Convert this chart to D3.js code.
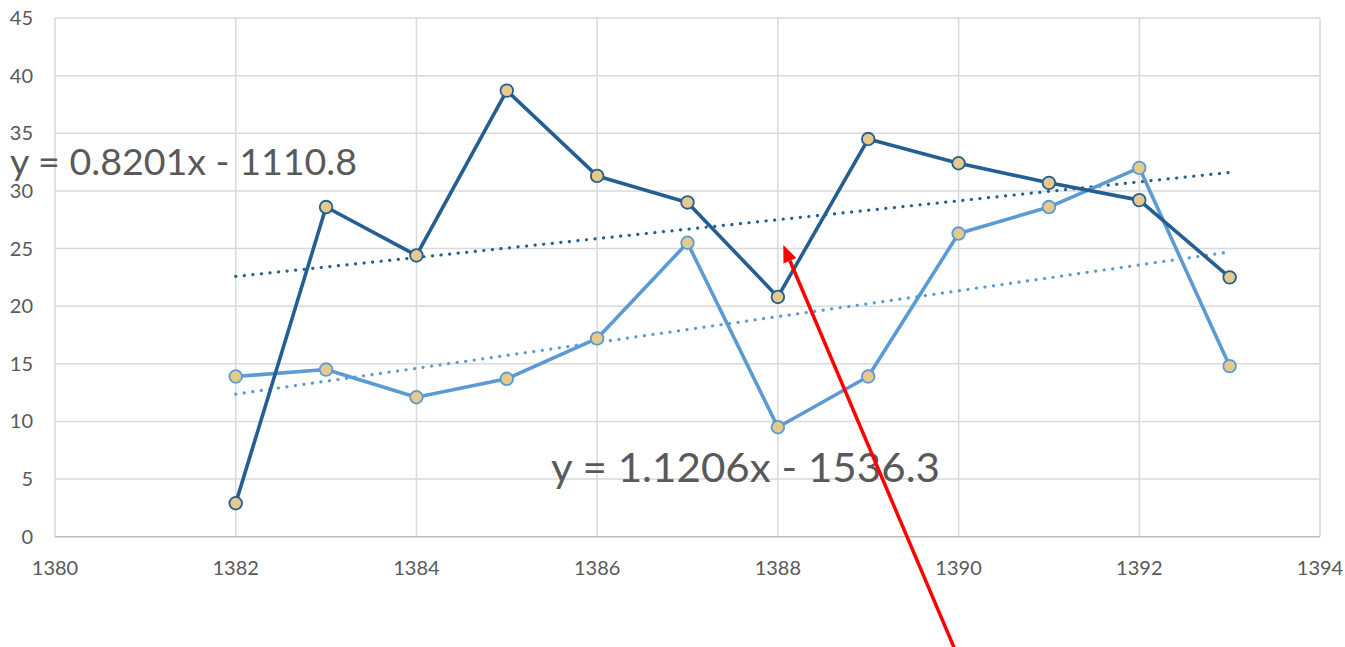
<!DOCTYPE html>
<html>
<head>
<meta charset="utf-8">
<script src="https://cdn.jsdelivr.net/npm/d3@7"></script>
<style>
  body { margin: 0; background: #fff; }
  svg text { font-family: Lato, "Open Sans", sans-serif; fill: #595959; }
</style>
</head>
<body>
<svg id="chart" width="1345" height="647"></svg>
<script>
// data
var years = [1382, 1383, 1384, 1385, 1386, 1387, 1388, 1389, 1390, 1391, 1392, 1393];
var seriesDark = [2.9, 28.6, 24.4, 38.7, 31.3, 29.0, 20.8, 34.5, 32.4, 30.7, 29.2, 22.5];
var seriesLight = [13.9, 14.5, 12.1, 13.7, 17.2, 25.5, 9.5, 13.9, 26.3, 28.6, 32.0, 14.8];
var trendDark = [0.8201, -1110.8];   // slope, intercept
var trendLight = [1.1206, -1536.3];
var xTicks = [1380, 1382, 1384, 1386, 1388, 1390, 1392, 1394];
var yTicks = [0, 5, 10, 15, 20, 25, 30, 35, 40, 45];
var arrowFrom = [1389.96, -9.8], arrowTo = [1388.06, 25.3];

(function() {
    var left = 55, right = 1320, top = 18, bottom = 536.7;

    var x = d3.scaleLinear().domain([1380, 1394]).range([left, right]);
    var y = d3.scaleLinear().domain([0, 45]).range([bottom, top]);

    var svg = d3.select("#chart");

    //gridlines
    svg.append("g").selectAll("line").data(yTicks.slice(1)).join("line")
        .attr("x1", left).attr("x2", right)
        .attr("y1", d => y(d)).attr("y2", d => y(d))
        .attr("stroke", "#d9d9d9").attr("stroke-width", 1.5);
    svg.append("g").selectAll("line").data(xTicks).join("line")
        .attr("x1", d => x(d)).attr("x2", d => x(d))
        .attr("y1", top).attr("y2", bottom)
        .attr("stroke", "#d9d9d9").attr("stroke-width", 1.5);
    //bottom axis line
    svg.append("line")
        .attr("x1", left).attr("x2", right).attr("y1", bottom).attr("y2", bottom)
        .attr("stroke", "#bfbfbf").attr("stroke-width", 1.5);

    //tick labels
    svg.append("g").selectAll("text").data(xTicks).join("text")
        .attr("x", d => x(d)).attr("y", 575)
        .attr("text-anchor", "middle").attr("font-size", 20)
        .text(d => d);
    svg.append("g").selectAll("text").data(yTicks).join("text")
        .attr("x", 33).attr("y", d => y(d) + 7)
        .attr("text-anchor", "end").attr("font-size", 20)
        .text(d => d);

    //trend lines
    function trend(c) { return years.map(v => [v, c[0] * v + c[1]]); }
    var line = d3.line().x(d => x(d[0])).y(d => y(d[1]));
    [[trendLight, "#5b9bd5"], [trendDark, "#255e91"]].forEach(function(t) {
        var pts = trend(t[0]);
        svg.append("path")
            .attr("d", line([pts[0], pts[pts.length - 1]]))
            .attr("fill", "none").attr("stroke", t[1])
            .attr("stroke-width", 3.2).attr("stroke-linecap", "round")
            .attr("stroke-dasharray", "0.1 8.5");
    });

    //series
    [[seriesLight, "#5b9bd5"], [seriesDark, "#255e91"]].forEach(function(s) {
        var pts = years.map((v, i) => [v, s[0][i]]);
        svg.append("path")
            .attr("d", line(pts))
            .attr("fill", "none").attr("stroke", s[1])
            .attr("stroke-width", 3.6).attr("stroke-linejoin", "round");
        svg.append("g").selectAll("circle").data(pts).join("circle")
            .attr("cx", d => x(d[0])).attr("cy", d => y(d[1]))
            .attr("r", 6.3)
            .attr("fill", "#e6c98c").attr("stroke", s[1]).attr("stroke-width", 1.8);
    });

    //equations
    svg.append("text")
        .attr("x", 10).attr("y", 175).attr("font-size", 36)
        .attr("textLength", 347).attr("lengthAdjust", "spacingAndGlyphs")
        .text("y = " + trendDark[0] + "x - " + Math.abs(trendDark[1]));
    svg.append("text")
        .attr("x", 551).attr("y", 482).attr("font-size", 40)
        .attr("textLength", 389).attr("lengthAdjust", "spacingAndGlyphs")
        .text("y = " + trendLight[0] + "x - " + Math.abs(trendLight[1]));

    //red arrow
    var x0 = x(arrowFrom[0]), y0 = y(arrowFrom[1]), x1 = x(arrowTo[0]), y1 = y(arrowTo[1]);
    var ang = Math.atan2(y1 - y0, x1 - x0);
    var headLen = 17, headW = 7;
    var bx = x1 - headLen * Math.cos(ang), by = y1 - headLen * Math.sin(ang);
    svg.append("line")
        .attr("x1", x0).attr("y1", y0).attr("x2", bx).attr("y2", by)
        .attr("stroke", "#ff0000").attr("stroke-width", 3.5);
    svg.append("path")
        .attr("d", "M" + x1 + "," + y1 +
            "L" + (bx + headW * Math.sin(ang)) + "," + (by - headW * Math.cos(ang)) +
            "L" + (bx - headW * Math.sin(ang)) + "," + (by + headW * Math.cos(ang)) + "Z")
        .attr("fill", "#ff0000");
})();
</script>
</body>
</html>
